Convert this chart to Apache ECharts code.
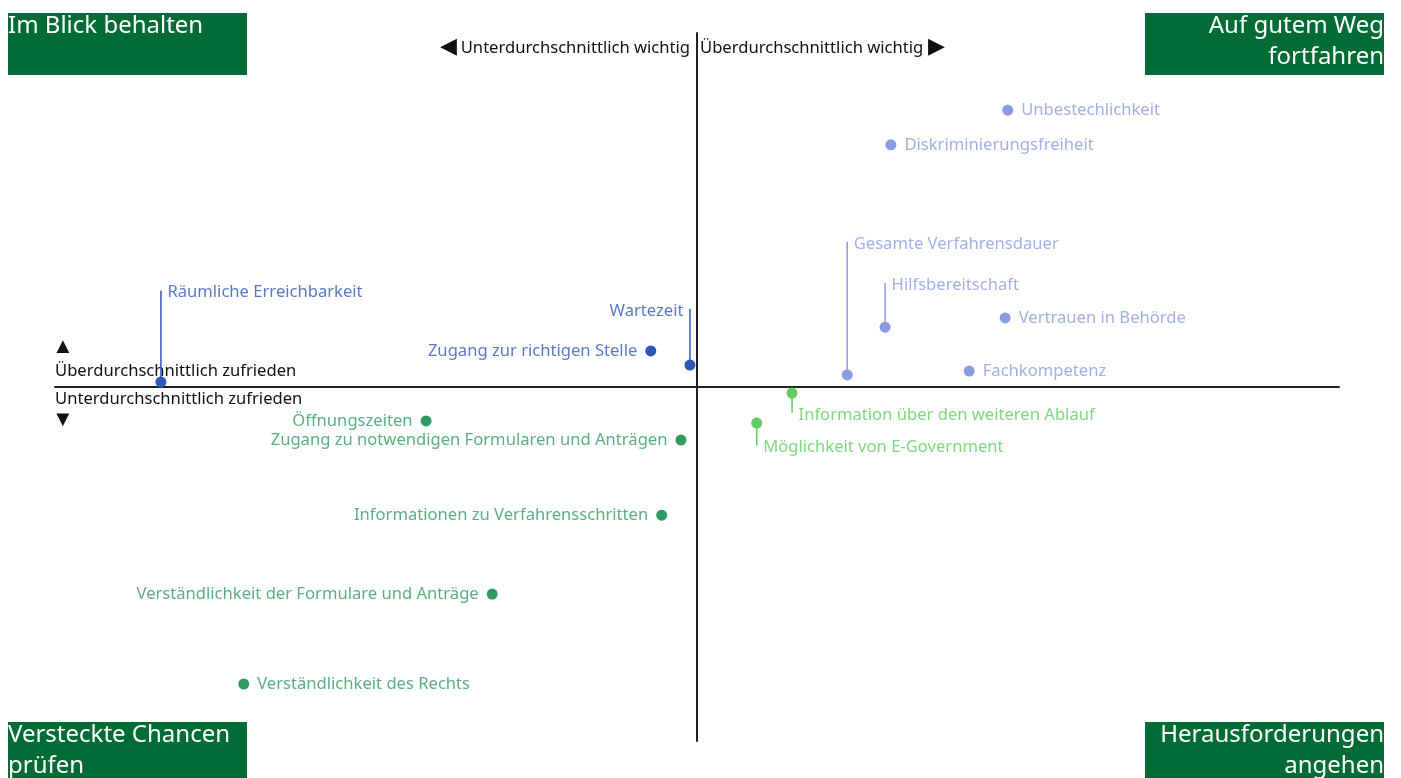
<!DOCTYPE html>
<html>
<head>
<meta charset="utf-8">
<title>Portfolio</title>
<script src="https://cdn.jsdelivr.net/npm/echarts@6/dist/echarts.min.js"></script>
<style>
  html, body { margin: 0; padding: 0; background: #fff; }
  #chart { width: 1401px; height: 778px; }
</style>
</head>
<body>
<div id="chart"></div>
<script>
// Merkmale (Wichtigkeit = x, Zufriedenheit = y, jeweils relativ zum Durchschnitt)
var names = [
  'Räumliche Erreichbarkeit', 'Wartezeit', 'Zugang zur richtigen Stelle',
  'Unbestechlichkeit', 'Diskriminierungsfreiheit', 'Gesamte Verfahrensdauer',
  'Hilfsbereitschaft', 'Vertrauen in Behörde', 'Fachkompetenz',
  'Information über den weiteren Ablauf', 'Möglichkeit von E-Government',
  'Öffnungszeiten', 'Zugang zu notwendigen Formularen und Anträgen',
  'Informationen zu Verfahrensschritten', 'Verständlichkeit der Formulare und Anträge',
  'Verständlichkeit des Rechts'
];
var xValues = [-8.35, -0.11, -0.72, 4.84, 3.02, 2.34, 2.93, 4.80, 4.24, 1.48, 0.93, -4.22, -0.25, -0.55, -3.19, -7.06];
var yValues = [0.14, 0.62, 1.02, 7.82, 6.84, 0.34, 1.69, 1.95, 0.45, -0.17, -1.02, -0.96, -1.50, -3.62, -5.85, -8.39];
// Gruppe: 0 dunkelblau, 1 hellblau, 2 dunkelgrün, 3 hellgrün
var groups = [0, 0, 0, 1, 1, 1, 1, 1, 1, 3, 3, 2, 2, 2, 2, 2];
// Beschriftung an Hinweislinie (null = direkt neben dem Punkt)
var labelY = [2.72, 2.2, null, null, null, 4.1, 2.94, null, null, -0.73, -1.65, null, null, null, null, null];
var labelSide = ['right', 'left', 'left', 'right', 'right', 'right', 'right', 'right', 'right', 'right', 'right', 'left', 'left', 'left', 'left', 'right'];

var groupColors = ['#2f57ba', '#8a9be0', '#2f9b62', '#5fcd5f'];
var textFont = '"Noto Sans", sans-serif';

var chart = echarts.init(document.getElementById('chart'));

var series = [];

// Hinweislinien
for (var i = 0; i < names.length; i++) {
  if (labelY[i] === null) continue;
  series.push({
    type: 'line',
    silent: true,
    symbol: 'none',
    animation: false,
    lineStyle: { color: groupColors[groups[i]], width: 1.5 },
    data: [[xValues[i], yValues[i]], [xValues[i], labelY[i]]],
    z: 3
  });
}

// Punkte je Gruppe
groupColors.forEach(function (c, g) {
  var pts = [];
  for (var i = 0; i < names.length; i++) {
    if (groups[i] === g) pts.push([xValues[i], yValues[i]]);
  }
  series.push({
    type: 'scatter',
    symbolSize: 11,
    itemStyle: { color: c, opacity: 1 },
    data: pts,
    z: 5
  });
});

// Beschriftungen
var labelData = names.map(function (n, i) {
  var leader = labelY[i] !== null;
  return {
    name: n,
    value: [xValues[i], leader ? labelY[i] : yValues[i]],
    label: {
      show: true,
      position: labelSide[i],
      distance: leader ? 6 : 13,
      offset: [0, leader ? 2 : 0],
      color: groupColors[groups[i]],
      formatter: '{b}'
    }
  };
});
series.push({
  type: 'scatter',
  symbolSize: 1,
  silent: true,
  itemStyle: { color: 'transparent' },
  label: { fontSize: 16.6, fontFamily: textFont },
  data: labelData,
  z: 6
});

function cornerBox(x, y, w, h, text, align) {
  return {
    type: 'group',
    children: [
      { type: 'rect', shape: { x: x, y: y, width: w, height: h }, style: { fill: '#006c35' } },
      {
        type: 'text',
        x: align === 'right' ? x + w : x,
        y: y - 2,
        style: {
          text: text, fill: '#fff', fontSize: 24, fontFamily: textFont,
          lineHeight: 31, align: align, verticalAlign: 'top'
        }
      }
    ]
  };
}

function plainText(x, y, text, align, size) {
  return {
    type: 'text', x: x, y: y,
    style: { text: text, fill: '#111', fontSize: size || 16.6, fontFamily: textFont, align: align, verticalAlign: 'middle' }
  };
}

var option = {
  backgroundColor: '#fff',
  animation: false,
  grid: { left: 55, right: 62, top: 33, bottom: 37 },
  xAxis: {
    type: 'value', min: -10, max: 10,
    axisLine: { onZero: true, lineStyle: { color: '#222', width: 2 } },
    axisTick: { show: false }, axisLabel: { show: false }, splitLine: { show: false }
  },
  yAxis: {
    type: 'value', min: -10, max: 10,
    axisLine: { onZero: true, lineStyle: { color: '#222', width: 2 } },
    axisTick: { show: false }, axisLabel: { show: false }, splitLine: { show: false }
  },
  series: series,
  graphic: [
    cornerBox(8, 13, 239, 62, 'Im Blick behalten', 'left'),
    cornerBox(1145, 13, 239, 62, 'Auf gutem Weg\nfortfahren', 'right'),
    cornerBox(8, 722, 239, 60, 'Versteckte Chancen\nprüfen', 'left'),
    cornerBox(1145, 722, 239, 60, 'Herausforderungen\nangehen', 'right'),
    plainText(448, 47, '◀', 'center', 22),
    plainText(690, 48, 'Unterdurchschnittlich wichtig', 'right'),
    plainText(700, 48, 'Überdurchschnittlich wichtig', 'left'),
    plainText(936, 47, '▶', 'center', 22),
    plainText(63, 347, '▲', 'center', 22),
    plainText(55, 371, 'Überdurchschnittlich zufrieden', 'left'),
    plainText(55, 399, 'Unterdurchschnittlich zufrieden', 'left'),
    plainText(63, 420, '▼', 'center', 22)
  ]
};

chart.setOption(option);
</script>
</body>
</html>
